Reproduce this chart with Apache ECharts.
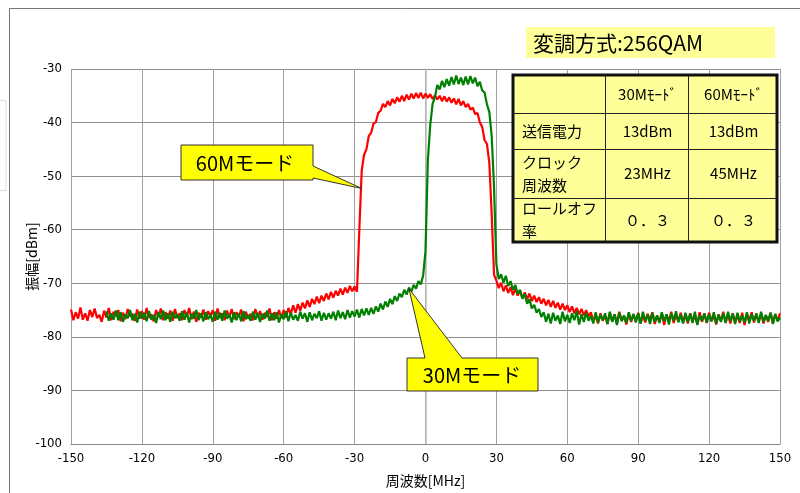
<!DOCTYPE html>
<html>
<head>
<meta charset="utf-8">
<script src="https://cdn.jsdelivr.net/npm/echarts@6/dist/echarts.min.js"></script>
<style>
html,body{margin:0;padding:0;background:#fff;}
#chart{width:800px;height:493px;}
</style>
</head>
<body>
<div id="chart"></div>
<script>
// ---------- data ----------
const xTicks = [-150, -120, -90, -60, -30, 0, 30, 60, 90, 120, 150];
const yTicks = [-100, -90, -80, -70, -60, -50, -40, -30];
const xName = '周波数[MHz]';
const yName = '振幅[dBm]';
const titleText = '変調方式:256QAM';

// 60M mode spectrum, 1 MHz steps starting at -150 MHz
const red60Start = -150;
const red60 = [
 -74.9,-76.9,-75.4,-76.6,-74.5,-76.8,-75.6,-77.0,-75.0,-76.3,
 -74.7,-76.5,-75.9,-77.2,-75.1,-76.4,-74.6,-76.9,-75.3,-76.1,
 -75.0,-77.1,-75.5,-76.7,-74.8,-76.2,-75.7,-77.0,-74.9,-76.6,
 -75.2,-76.8,-74.6,-76.4,-75.8,-77.1,-75.0,-76.3,-74.7,-76.9,
 -75.4,-76.6,-75.1,-77.0,-74.8,-76.5,-75.6,-76.9,-75.0,-76.2,
 -74.6,-76.7,-75.3,-77.2,-75.5,-76.4,-74.9,-76.8,-75.2,-76.1,
 -75.0,-77.0,-74.7,-76.5,-75.6,-76.9,-75.1,-76.3,-74.8,-76.7,
 -75.4,-76.2,-74.9,-77.1,-75.3,-76.6,-75.7,-76.9,-74.8,-76.4,
 -75.2,-76.8,-75.5,-76.3,-74.7,-76.9,-75.4,-76.6,-75.0,-76.5,
 -75.0,-76.4,-74.6,-75.8,-74.1,-75.5,-73.9,-75.1,-73.6,-74.7,
 -73.2,-74.4,-72.9,-73.9,-72.5,-73.7,-72.3,-73.3,-71.9,-73.0,
 -71.6,-72.7,-71.4,-72.3,-71.0,-72.1,-70.8,-71.8,-70.5,-71.5,
 -70.6,-71.6,-60.0,-49.0,-46.0,-45.0,-42.5,-41.9,-40.2,-39.9,
 -38.2,-37.8,-36.5,-37.1,-36.0,-36.8,-35.6,-36.4,-35.3,-36.1,
 -35.0,-36.0,-34.8,-35.7,-34.6,-35.5,-34.5,-35.4,-34.4,-35.5,
 -34.6,-35.4,-34.7,-35.6,-34.9,-35.7,-35.0,-36.0,-35.1,-36.1,
 -35.3,-36.3,-35.5,-36.6,-35.6,-36.8,-36.0,-37.1,-36.5,-37.6,
 -37.2,-38.4,-38.2,-40.0,-40.8,-43.3,-44.0,-47.5,-57.0,-68.4,
 -69.5,-70.9,-69.9,-71.5,-70.4,-71.8,-70.7,-72.2,-71.0,-72.3,
 -71.4,-72.8,-71.7,-73.0,-71.9,-73.3,-72.3,-73.5,-72.6,-73.8,
 -72.9,-74.1,-73.1,-74.4,-73.3,-74.6,-73.6,-74.9,-73.8,-75.0,
 -74.1,-75.4,-74.3,-75.6,-74.6,-75.8,-74.8,-76.0,-75.0,-76.2,
 -75.4,-77.2,-75.9,-77.5,-75.6,-77.0,-76.1,-77.6,-75.5,-77.1,
 -75.8,-77.4,-75.3,-76.9,-76.2,-77.7,-75.6,-77.2,-75.9,-77.0,
 -75.5,-77.5,-76.0,-77.3,-75.7,-76.9,-75.4,-77.6,-76.1,-77.2,
 -75.6,-77.8,-75.8,-77.1,-75.3,-77.4,-76.0,-77.0,-75.5,-77.3,
 -75.9,-77.5,-75.6,-77.0,-76.2,-77.6,-75.4,-77.2,-75.7,-77.4,
 -75.5,-77.1,-76.0,-77.7,-75.8,-77.0,-75.3,-77.3,-75.9,-77.5,
 -75.6,-77.2,-76.1,-77.4,-75.5,-77.8,-75.7,-77.0,-75.4,-77.3,
 -75.9,-77.1,-75.6,-77.5,-76.0,-77.2,-75.5,-77.4,-75.8,-77.0,
 -75.6
];

// 30M mode spectrum, 1 MHz steps starting at -135 MHz
const green30Start = -135;
const green30 = [
 -75.2,-77.0,-75.6,-76.8,-75.1,
 -76.9,-75.4,-77.2,-75.8,-76.5,-75.0,-76.9,-75.7,-77.3,-75.3,
 -76.6,-75.5,-77.1,-75.2,-76.8,-75.9,-77.4,-75.4,-76.7,-75.1,
 -76.9,-75.6,-77.2,-75.3,-76.5,-75.8,-77.0,-75.2,-76.8,-75.5,
 -77.3,-75.7,-76.6,-75.0,-76.9,-75.6,-77.1,-75.4,-76.7,-75.9,
 -77.2,-75.3,-76.8,-75.5,-77.0,-75.1,-76.6,-75.8,-77.3,-75.4,
 -76.9,-75.6,-77.1,-75.2,-76.7,-75.9,-77.0,-75.3,-76.8,-75.5,
 -77.2,-75.7,-76.6,-75.1,-77.0,-75.6,-76.9,-75.4,-77.3,-75.8,
 -76.7,-75.2,-77.1,-75.5,-76.8,-75.9,-77.0,-75.3,-76.6,-75.6,
 -77.2,-75.4,-76.9,-75.7,-76.5,-75.2,-77.0,-75.5,-76.8,-75.6,
 -76.6,-75.3,-76.9,-75.1,-76.5,-75.4,-76.7,-75.0,-76.4,-75.2,
 -76.2,-74.9,-76.4,-74.8,-76.0,-74.7,-75.9,-74.6,-75.7,-74.3,
 -75.3,-73.8,-74.9,-73.4,-74.4,-72.9,-73.9,-72.4,-73.3,-71.9,
 -72.6,-71.2,-72.1,-70.8,-71.6,-70.3,-71.0,-69.6,-70.2,-68.6,
 -64.0,-47.0,-40.5,-36.5,-35.2,-33.0,-33.8,-32.2,-33.4,-31.9,
 -33.1,-31.5,-32.9,-31.2,-32.8,-31.6,-33.0,-31.4,-32.9,-31.3,
 -32.7,-31.6,-33.2,-32.4,-34.0,-34.4,-36.6,-38.0,-42.5,-52.0,
 -66.5,-69.2,-68.3,-69.9,-68.6,-70.5,-69.6,-71.2,-70.3,-72.0,
 -71.2,-72.9,-72.0,-73.8,-73.0,-74.7,-74.0,-75.5,-74.8,-76.3,
 -75.4,-77.2,-75.7,-77.5,-75.5,-77.0,-76.0,-77.6,-75.3,-77.1,
 -75.9,-77.4,-75.6,-76.9,-75.2,-77.7,-75.8,-77.2,-75.5,-77.0,
 -76.1,-77.5,-75.4,-77.3,-75.9,-76.9,-75.6,-77.6,-75.3,-77.2,
 -75.8,-77.8,-75.5,-77.1,-76.0,-77.4,-75.4,-77.0,-75.7,-77.3,
 -75.6,-77.5,-75.3,-77.0,-75.9,-77.6,-75.5,-77.2,-76.0,-77.4,
 -75.4,-77.1,-75.8,-77.7,-75.6,-77.0,-75.2,-77.3,-75.9,-77.5,
 -75.5,-77.2,-75.7,-77.4,-75.3,-77.8,-76.0,-77.0,-75.6,-77.3,
 -75.8,-77.1,-75.4,-77.5,-75.9,-77.2,-75.6,-77.4,-75.3,-77.0,
 -75.7,-77.6,-75.5,-77.1,-76.0,-77.3,-75.4,-77.5,-75.8,-77.0,
 -75.6,-77.4,-75.3,-77.2,-75.9,-77.0,-75.5,-77.6,-75.7,-77.1,
 -76.4
];

// parameter table
const tableHeader = ['', '30Mﾓｰﾄﾞ', '60Mﾓｰﾄﾞ'];
const tableRows = [
  ['送信電力', '13dBm', '13dBm'],
  ['クロック\n周波数', '23MHz', '45MHz'],
  ['ロールオフ\n率', '０．３', '０．３']
];
const callout60 = '60Mモード';
const callout30 = '30Mモード';
// callout pointer targets [MHz, dBm]
const tip60 = [-27.0, -52.3];
const tip30 = [-7.0, -71.0];

// ---------- chart ----------
const toPairs = (start, arr) => arr.map((v, i) => [start + i, v]);
const tickFont = "'Liberation Sans Narrow','DejaVu Sans Condensed','Noto Sans CJK JP',sans-serif";
const jpFont = "'Noto Sans CJK JP',sans-serif";

const chart = echarts.init(document.getElementById('chart'), null, {renderer: 'canvas'});

const option = {
  animation: false,
  backgroundColor: '#ffffff',
  grid: {left: 71, top: 69, right: 20, bottom: 48, containLabel: false},
  xAxis: {
    type: 'value', min: xTicks[0], max: xTicks[xTicks.length - 1], interval: 30,
    name: xName, nameLocation: 'middle', nameGap: 30, nameMoveOverlap: false,
    nameTextStyle: {fontFamily: jpFont, fontSize: 14, color: '#000'},
    axisLine: {show: true, lineStyle: {color: '#888', width: 1}},
    axisTick: {show: false},
    axisLabel: {margin: 8, fontFamily: tickFont, fontSize: 13, color: '#000'},
    splitLine: {show: true, lineStyle: {color: '#a0a0a0', width: 1}}
  },
  yAxis: {
    type: 'value', min: yTicks[0], max: yTicks[yTicks.length - 1], interval: 10,
    name: yName, nameLocation: 'middle', nameGap: 32, nameRotate: 90, nameMoveOverlap: false,
    nameTextStyle: {fontFamily: jpFont, fontSize: 14, color: '#000'},
    axisLine: {show: true, lineStyle: {color: '#bbb', width: 1.5}},
    axisTick: {show: false},
    axisLabel: {margin: 9, fontFamily: tickFont, fontSize: 13, color: '#000'},
    splitLine: {show: true, lineStyle: {color: '#909090', width: 1}}
  },
  series: [
    {
      name: '60M', type: 'line', data: toPairs(red60Start, red60),
      showSymbol: false, symbol: 'none', sampling: null, z: 2,
      lineStyle: {color: '#ff0000', width: 2.2}
    },
    {
      name: '30M', type: 'line', data: toPairs(green30Start, green30),
      showSymbol: false, symbol: 'none', sampling: null, z: 3,
      lineStyle: {color: '#008000', width: 2.2}
    }
  ]
};
chart.setOption(option);

// ---------- annotations ----------
const p60 = chart.convertToPixel({gridIndex: 0}, tip60);
const p30 = chart.convertToPixel({gridIndex: 0}, tip30);

const graphics = [];
// outer frame remnants
graphics.push({type: 'line', shape: {x1: 9.5, y1: 8.5, x2: 800, y2: 8.5}, style: {stroke: '#777', lineWidth: 1}, silent: true});
graphics.push({type: 'line', shape: {x1: 9.5, y1: 8.5, x2: 9.5, y2: 493}, style: {stroke: '#777', lineWidth: 1}, silent: true});
graphics.push({type: 'rect', shape: {x: -2, y: 100.5, width: 8, height: 90}, style: {fill: 'none', stroke: '#ddd', lineWidth: 1}, silent: true});

// title box
graphics.push({type: 'rect', shape: {x: 526, y: 27, width: 249, height: 31}, style: {fill: '#ffff99'}, z: 10});
graphics.push({type: 'text', x: 533, y: 43, style: {text: titleText, font: "21px 'Noto Sans CJK JP', sans-serif", fill: '#000', textVerticalAlign: 'middle', verticalAlign: 'middle'}, z: 11});

// table
const tX = [513, 605, 688, 777];
const tY = [75, 113, 149, 198, 242];
graphics.push({type: 'rect', shape: {x: tX[0], y: tY[0], width: tX[3] - tX[0], height: tY[4] - tY[0]}, style: {fill: '#ffff99', stroke: '#111', lineWidth: 3}, z: 10});
for (let i = 1; i < 3; i++) {
  graphics.push({type: 'line', shape: {x1: tX[i] + 0.5, y1: tY[0], x2: tX[i] + 0.5, y2: tY[4]}, style: {stroke: '#222', lineWidth: 1}, z: 11});
}
for (let j = 1; j < 4; j++) {
  graphics.push({type: 'line', shape: {x1: tX[0], y1: tY[j] + 0.5, x2: tX[3], y2: tY[j] + 0.5}, style: {stroke: '#222', lineWidth: 1}, z: 11});
}
const allRows = [tableHeader].concat(tableRows);
allRows.forEach((row, r) => {
  const cy = (tY[r] + tY[r + 1]) / 2;
  row.forEach((txt, c) => {
    if (!txt) return;
    const left = c === 0;
    graphics.push({
      type: 'text',
      x: left ? tX[0] + 9 : (tX[c] + tX[c + 1]) / 2 + 1,
      y: cy,
      style: {
        text: txt, font: "15px 'Noto Sans CJK JP', sans-serif", fill: '#000',
        textAlign: left ? 'left' : 'center', align: left ? 'left' : 'center',
        textVerticalAlign: 'middle', verticalAlign: 'middle', lineHeight: 23
      },
      z: 12
    });
  });
});

// callout 60M
graphics.push({
  type: 'polygon',
  shape: {points: [[181, 145], [313, 145], [313, 166], [p60[0], p60[1]], [313, 178], [313, 180], [181, 180]]},
  style: {fill: '#ffff00', stroke: '#333', lineWidth: 1}, z: 10
});
graphics.push({type: 'text', x: 245, y: 163, style: {text: callout60, font: "20px 'Noto Sans CJK JP', sans-serif", fill: '#000', textAlign: 'center', align: 'center', textVerticalAlign: 'middle', verticalAlign: 'middle'}, z: 11});

// callout 30M
graphics.push({
  type: 'polygon',
  shape: {points: [[407, 358], [425, 358], [p30[0], p30[1]], [462, 358], [538, 358], [538, 391], [407, 391]]},
  style: {fill: '#ffff00', stroke: '#333', lineWidth: 1}, z: 10
});
graphics.push({type: 'text', x: 472, y: 375, style: {text: callout30, font: "20px 'Noto Sans CJK JP', sans-serif", fill: '#000', textAlign: 'center', align: 'center', textVerticalAlign: 'middle', verticalAlign: 'middle'}, z: 11});

chart.setOption({graphic: {elements: graphics}});
</script>
</body>
</html>
